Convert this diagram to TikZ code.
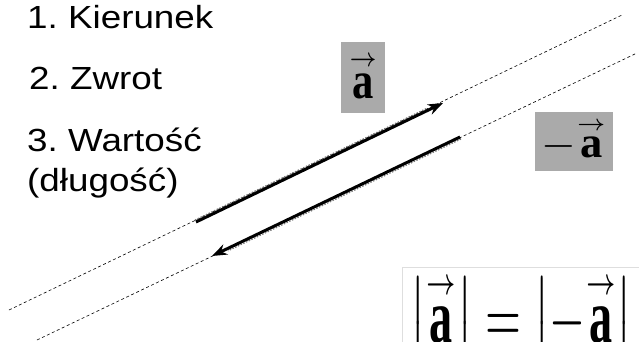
\documentclass[tikz,border=0pt]{standalone}
\usepackage{fontspec}
\usepackage{amsmath}
\usepackage{graphicx}
\setmainfont{Liberation Serif}
\setsansfont{Liberation Sans}
\usetikzlibrary{arrows.meta, positioning, calc}
\definecolor{boxgray}{RGB}{170,170,170}
\definecolor{framegray}{RGB}{222,222,222}
\definecolor{shadegray}{RGB}{120,120,120}
\newcommand{\veca}{\mathord{\vbox{\offinterlineskip\halign{\hfil##\hfil\cr
  $\scriptscriptstyle\rightarrow$\cr\noalign{\kern0.15em}\textbf{a}\cr}}}}
\newcommand{\wide}[1]{\scalebox{1.15}[1]{#1}}
\frenchspacing

\begin{document}
\begin{tikzpicture}[
  x=1pt, y=-1pt,
  txt/.style={anchor=base west, inner sep=0pt, font=\sffamily\fontsize{32}{38}\selectfont},
  vecbox/.style={fill=boxgray, inner sep=0pt},
  guide/.style={line width=0.6pt, dash pattern=on 3pt off 2.5pt},
  vecline/.style={line width=3pt, -{Stealth[length=15pt,width=11pt]}},
  shade/.style={shadegray, line width=1.2pt, dash pattern=on 1.5pt off 1.5pt}
]
  \useasboundingbox (0,0) rectangle (639,342);
  \clip (0,0) rectangle (639,342);

  % text on the left
  \node[txt] (kier) at (27,29) {\wide{1. Kierunek}};
  \node[txt] (zwrot) at (29,90) {\wide{2. Zwrot}};
  \node[txt] (wart) at (27,151) {\wide{3. Warto\'s\'c}};
  \node[txt] (dlug) at (27,191) {\wide{(d\l ugo\'s\'c)}};

  % the two lines of action
  \coordinate (g1a) at (9,310);
  \coordinate (p1a) at (196,222);
  \coordinate (p1b) at (443,103);
  \coordinate (g1b) at (622,15);
  \coordinate (g2a) at (37,340);
  \coordinate (p2b) at (212,256);
  \coordinate (p2a) at (460,137);
  \coordinate (g2b) at (637,53);
  \draw[guide] (g1a) -- (g1b);
  \draw[guide] (g2a) -- (g2b);

  % vectors a and -a
  \coordinate (s1b) at ($(p1a)!0.94!(p1b)$);
  \coordinate (s2b) at ($(p2a)!0.94!(p2b)$);
  \draw[shade] ([shift={(-1,-2)}]p1a) -- ([shift={(-1,-2)}]s1b);
  \draw[shade] ([shift={(1,2)}]p2a) -- ([shift={(1,2)}]s2b);
  \draw[vecline] (p1a) -- (p1b);
  \draw[vecline] (p2a) -- (p2b);

  % labels of the vectors
  \node[vecbox, minimum width=44pt, minimum height=71pt] (boxa) at (363,77.5)
    {\resizebox{29pt}{43pt}{$\veca$}};
  \node[vecbox, minimum width=78pt, minimum height=59pt] (boxma) at (574,141.5)
    {\resizebox{65pt}{36pt}{$-\veca$}};

  % equal lengths
  \node[draw=framegray, fill=white, line width=0.8pt, minimum width=300pt,
        minimum height=120pt, anchor=north west] (frame) at (402,267) {};
  \node[anchor=base west, inner sep=0pt] (norm) at (410,342)
    {\resizebox{222pt}{65pt}{$\bigl|\veca\bigr| = \bigl|-\veca\bigr|$}};
\end{tikzpicture}
\end{document}
